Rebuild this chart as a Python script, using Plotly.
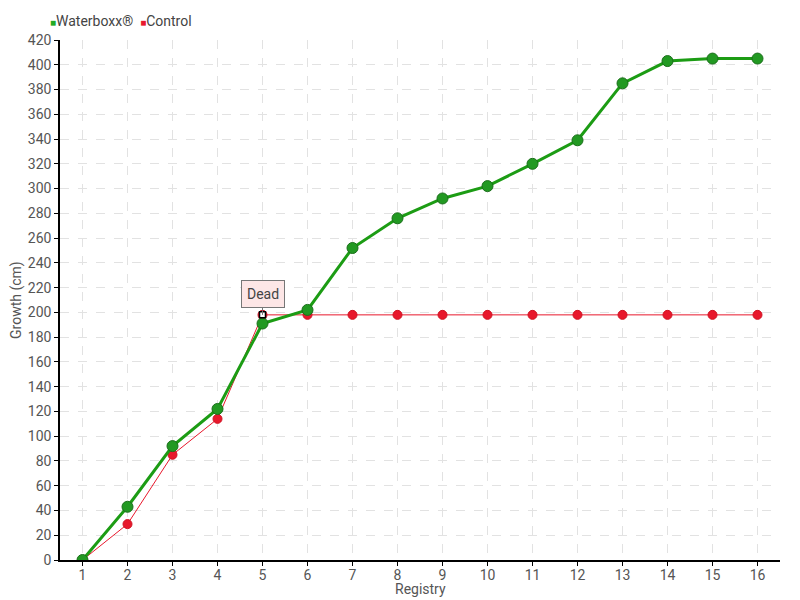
import plotly.graph_objects as go

registry = list(range(1, 17))
waterboxx = [0, 43, 92, 122, 191, 202, 252, 276, 292, 302, 320, 339, 385, 403, 405, 405]
control = [0, 29, 85, 114, 198, 198, 198, 198, 198, 198, 198, 198, 198, 198, 198, 198]
dead_index = 4
y_ticks = list(range(0, 421, 20))

FONT = "Roboto, sans-serif"
GREEN = "#1c9c14"
RED = "#e8182c"

fig = go.Figure()

fig.add_trace(go.Scatter(
    x=registry, y=control, mode="lines+markers", name="Control", showlegend=False,
    line=dict(color=RED, width=1),
    marker=dict(color=RED, size=9, line=dict(color="#d01020", width=1)),
))
fig.add_trace(go.Scatter(
    x=registry, y=waterboxx, mode="lines+markers", name="Waterboxx®", showlegend=False,
    line=dict(color=GREEN, width=3),
    marker=dict(color="#229922", size=11, line=dict(color="#1a6e1a", width=1)),
))
fig.add_trace(go.Scatter(
    x=[registry[dead_index]], y=[control[dead_index]], mode="markers", showlegend=False,
    marker=dict(symbol="square", color="white", size=6, line=dict(color="black", width=1.5)),
    hoverinfo="skip",
))

# legend as text
fig.add_annotation(
    xref="paper", yref="paper", x=-0.016, y=1.0, yshift=19, xanchor="left", yanchor="middle",
    showarrow=False,
    text=("<span style='color:#22aa22;font-size:10px'>■</span>Waterboxx®  "
          "<span style='color:" + RED + ";font-size:10px'>■</span>Control"),
    font=dict(family=FONT, size=14, color="#444"),
)

# axis titles
fig.add_annotation(
    xref="paper", yref="paper", x=0.5, y=0, yshift=-29, xanchor="center", yanchor="middle",
    showarrow=False, text="Registry", font=dict(family=FONT, size=14, color="#555"),
)
fig.add_annotation(
    xref="paper", yref="paper", x=0, xshift=-44, y=0.5, xanchor="center", yanchor="middle",
    showarrow=False, textangle=-90, text="Growth (cm)", font=dict(family=FONT, size=14, color="#555"),
)

fig.add_annotation(
    x=registry[dead_index], y=control[dead_index], text="Dead",
    showarrow=True, ax=0, ay=-21, arrowhead=0, arrowwidth=1, arrowcolor="#777",
    bgcolor="#fde6e6", bordercolor="#777", borderwidth=1, borderpad=5,
    font=dict(family=FONT, size=14, color="#444"),
)

fig.update_layout(
    width=800, height=600,
    margin=dict(l=60, r=20, t=40, b=40, autoexpand=False),
    plot_bgcolor="white", paper_bgcolor="white",
    font=dict(family=FONT, size=14, color="#555"),
    showlegend=False,
    xaxis=dict(
        range=[0.5, 16.5], tickmode="array", tickvals=registry, ticktext=[str(r) for r in registry],
        showgrid=True, gridcolor="#e2e2e2", griddash="dash", gridwidth=1,
        showline=True, linecolor="black", linewidth=1.5,
        ticks="outside", ticklen=4, tickcolor="black", ticklabelstandoff=-3,
        zeroline=False, automargin=False,
    ),
    yaxis=dict(
        range=[0, 420], tickmode="array", tickvals=y_ticks,
        showgrid=True, gridcolor="#e2e2e2", griddash="dash", gridwidth=1,
        showline=True, linecolor="black", linewidth=1.5,
        ticks="outside", ticklen=4, tickcolor="black",
        zeroline=False, automargin=False,
    ),
)

fig.write_html("out.html", config={"displayModeBar": False},
               post_script="document.body.style.margin='0';document.body.style.overflow='hidden';")
